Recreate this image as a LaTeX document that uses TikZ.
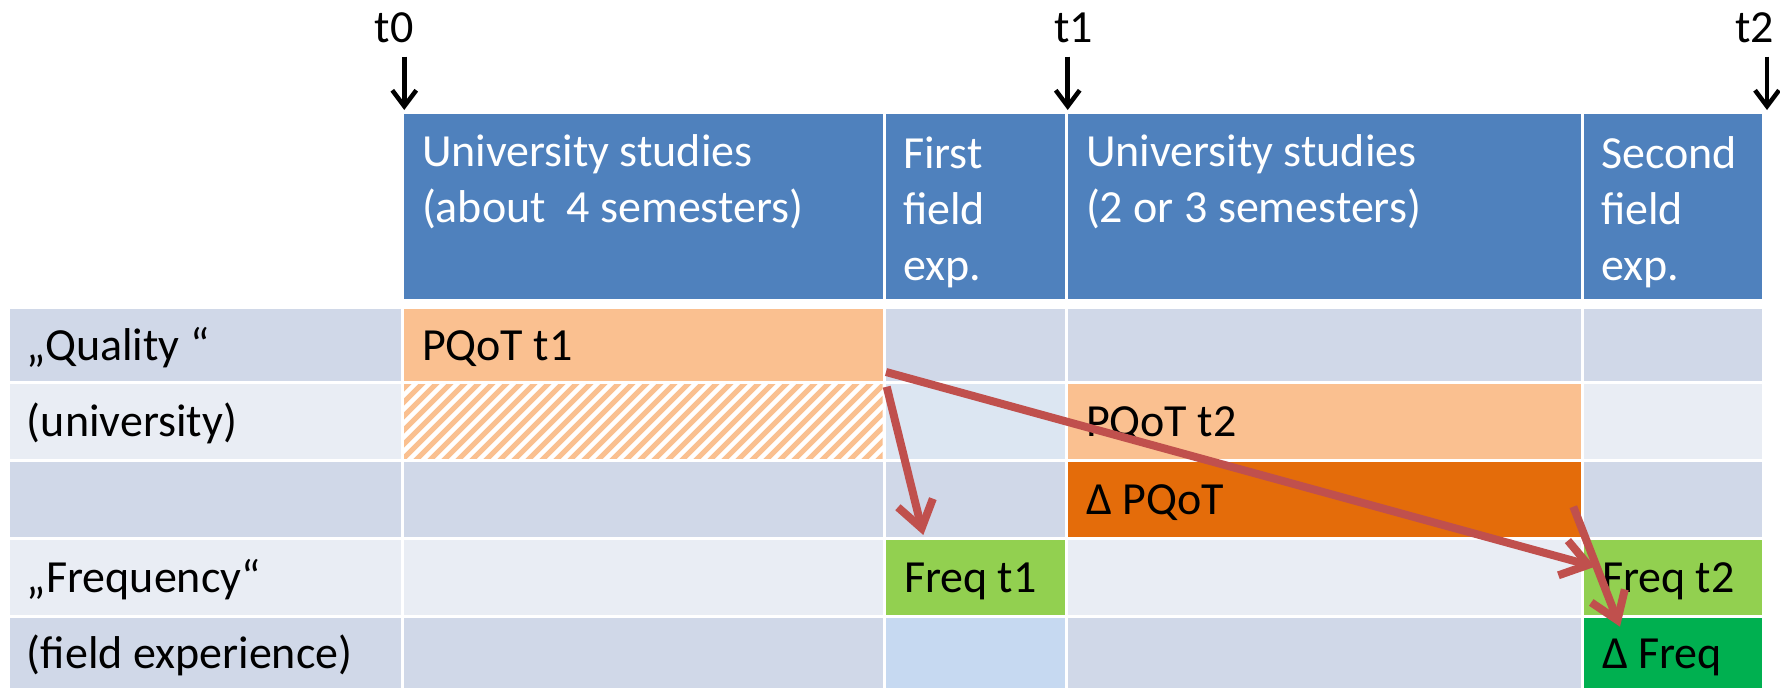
\documentclass[tikz,border=0pt]{standalone}
\usepackage{fontspec}
\setmainfont{Carlito}
\usetikzlibrary{arrows.meta}
\definecolor{hdr}{HTML}{4F81BD}
\definecolor{rowd}{HTML}{D0D8E8}
\definecolor{rowl}{HTML}{E9EDF4}
\definecolor{lorange}{HTML}{FAC090}
\definecolor{dorange}{HTML}{E46C0A}
\definecolor{lgreen}{HTML}{92D050}
\definecolor{dgreen}{HTML}{00B050}
\definecolor{lblue}{HTML}{C6D9F1}
\definecolor{lbluetwo}{HTML}{DCE6F2}
\definecolor{arrowred}{HTML}{C0504D}
\newcommand\mycell[6]{\node[cell,fill=#6,minimum width={#4-#2},minimum height={#5-#3}] (#1) at (#2,#3) {};}
\begin{document}
\begin{tikzpicture}[x=1pt,y=-1pt,
  cell/.style={draw=none,inner sep=0pt,outer sep=0pt,anchor=north west},
  txt/.style={inner sep=0pt,outer sep=0pt,anchor=base west,font=\fontsize{46}{56}\selectfont},
  htxt/.style={txt,text=white,align=left},
  tlabel/.style={inner sep=0pt,outer sep=0pt,anchor=base,font=\fontsize{46}{56}\selectfont},
  tarrow/.style={line width=4.5pt,-{Straight Barb[length=16pt,width=24pt]}},
  redarrow/.style={draw=arrowred,line width=8pt,-{Straight Barb[length=26pt,width=36pt]}}]
\useasboundingbox (0,0) rectangle (1780,688);
% header
\mycell{h1}{404}{114}{882.7}{299}{hdr}
\mycell{h2}{886}{114}{1064.8}{299}{hdr}
\mycell{h3}{1068.3}{114}{1581}{299}{hdr}
\mycell{h4}{1584.4}{114}{1762.3}{299}{hdr}
% row 1
\mycell{l1}{10}{309}{401}{380.5}{rowd}
\mycell{c11}{404}{309}{882.7}{380.5}{lorange}
\mycell{c12}{886}{309}{1064.8}{380.5}{rowd}
\mycell{c13}{1068.3}{309}{1581}{380.5}{rowd}
\mycell{c14}{1584.4}{309}{1762.3}{380.5}{rowd}
% row 2
\mycell{l2}{10}{384}{401}{458.7}{rowl}
\mycell{c21}{404}{384}{882.7}{458.7}{white}
\mycell{c22}{886}{384}{1064.8}{458.7}{lbluetwo}
\mycell{c23}{1068.3}{384}{1581}{458.7}{lorange}
\mycell{c24}{1584.4}{384}{1762.3}{458.7}{rowl}
% row 3
\mycell{l3}{10}{462}{401}{536.7}{rowd}
\mycell{c31}{404}{462}{882.7}{536.7}{rowd}
\mycell{c32}{886}{462}{1064.8}{536.7}{rowd}
\mycell{c33}{1068.3}{462}{1581}{536.7}{dorange}
\mycell{c34}{1584.4}{462}{1762.3}{536.7}{rowd}
% row 4
\mycell{l4}{10}{540}{401}{614.7}{rowl}
\mycell{c41}{404}{540}{882.7}{614.7}{rowl}
\mycell{c42}{886}{540}{1064.8}{614.7}{lgreen}
\mycell{c43}{1068.3}{540}{1581}{614.7}{rowl}
\mycell{c44}{1584.4}{540}{1762.3}{614.7}{lgreen}
% row 5
\mycell{l5}{10}{618}{401}{688}{rowd}
\mycell{c51}{404}{618}{882.7}{688}{rowd}
\mycell{c52}{886}{618}{1064.8}{688}{lblue}
\mycell{c53}{1068.3}{618}{1581}{688}{rowd}
\mycell{c54}{1584.4}{618}{1762.3}{688}{dgreen}
% hatch
\begin{scope}
\clip (404,384) rectangle (882.7,458.7);
\foreach \i in {0,...,42}
  \draw[lorange,line width=5pt] ({314+\i*14},464) -- ++(90,-90);
\end{scope}
% header texts (anchored at the baseline of the last line)
\node[htxt] (ht1) at (422,222.7) {University studies\\(about\ \ 4 semesters)};
\node[htxt] (ht2) at (903,280) {First\\field\\exp.};
\node[htxt] (ht3) at (1086,222.7) {University studies\\(2 or 3 semesters)};
\node[htxt] (ht4) at (1601,280) {Second\\field\\exp.};
% row labels
\node[txt] (lt1) at (27,360) {„Quality “};
\node[txt] (lt2) at (27,436.5) {(university)};
\node[txt] (lt4) at (27,592.5) {„Frequency“};
\node[txt] (lt5) at (27,668) {(field experience)};
% cell texts
\node[txt] (pq1) at (422,360) {PQoT t1};
\node[txt] (pq2) at (1086,436.5) {PQoT t2};
\node[txt] (dpq) at (1086,514.5) {Δ PQoT};
\node[txt] (fq1) at (904,592.5) {Freq t1};
\node[txt] (fq2) at (1602,592.5) {Freq t2};
\node[txt] (dfq) at (1602,668) {Δ Freq};
% time labels
\node[tlabel] (t0) at (394,42) {t0};
\node[tlabel] (t1) at (1073.5,42) {t1};
\node[tlabel] (t2) at (1754.6,42) {t2};
\coordinate (t0a) at (404.3,56.7);
\coordinate (t0b) at (404.3,110);
\coordinate (t1a) at (1067.7,56.7);
\coordinate (t1b) at (1067.7,110);
\coordinate (t2a) at (1767,56.7);
\coordinate (t2b) at (1767,110);
\draw[tarrow] (t0a) -- (t0b);
\draw[tarrow] (t1a) -- (t1b);
\draw[tarrow] (t2a) -- (t2b);
% red arrows
\coordinate (a1s) at (886.7,386.7);
\coordinate (a1e) at (923.3,535);
\coordinate (a2s) at (886,372);
\coordinate (a2e) at (1595,566.7);
\coordinate (a3s) at (1573.3,506.7);
\coordinate (a3e) at (1620,626.7);
\draw[redarrow] (a1s) -- (a1e);
\draw[redarrow] (a2s) -- (a2e);
\draw[redarrow] (a3s) -- (a3e);
\end{tikzpicture}
\end{document}
